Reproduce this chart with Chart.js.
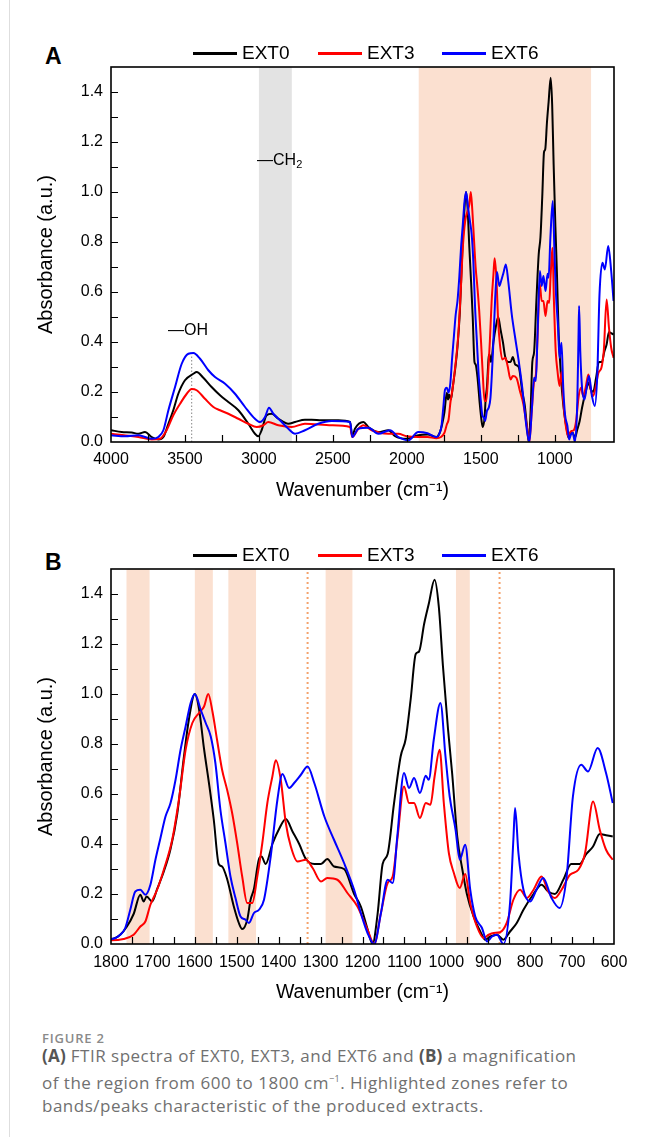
<!DOCTYPE html>
<html>
<head>
<meta charset="utf-8">
<script src="https://cdn.jsdelivr.net/npm/chart.js@4.4.1/dist/chart.umd.min.js"></script>
<style>
  html, body { margin: 0; padding: 0; background: #fff; }
  body { width: 648px; height: 1137px; position: relative; overflow: hidden;
         font-family: "Liberation Sans", Arial, sans-serif; color: #000; }
  .edge { position: absolute; left: 9px; top: 0; width: 1px; height: 1137px; background: #dedede; }
  .tag { position: absolute; font-weight: bold; font-size: 23px; line-height: 24px; }
  .box { position: absolute; left: 0; width: 648px; height: 475px; }
  .legend-item { position: absolute; height: 24px; display: flex; align-items: center;
                 font-size: 19px; white-space: nowrap; }
  .legend-item .swatch { display: inline-block; width: 44px; height: 3px; margin-right: 5px; }
  .fig { position: absolute; left: 42px; top: 1029px; font-family: "Open Sans", sans-serif;
         font-size: 13px; font-weight: 600; color: #8a8a8a; letter-spacing: 0.8px; }
  .caption { position: absolute; left: 42px; top: 1044px; width: 610px; font-family: "Open Sans", sans-serif;
             font-size: 17px; line-height: 23.3px; letter-spacing: 0.5px; color: #707070; }
  .caption b { color: #555; font-weight: 700; letter-spacing: 0.2px; }
</style>
</head>
<body>
<div class="edge"></div>
<div class="tag" style="left:45px; top:44px;">A</div>
<div class="tag" style="left:45px; top:550px;">B</div>
<div class="box" style="top:40px;"><canvas id="chartA" width="648" height="475"></canvas></div>
<div class="box" style="top:540px;"><canvas id="chartB" width="648" height="475"></canvas></div>
<div class="fig">FIGURE 2</div>
<div class="caption"><b>(A)</b> FTIR spectra of EXT0, EXT3, and EXT6 and <b>(B)</b> a magnification<br>of the region from 600 to 1800 cm<sup style="font-size:9px;">−1</sup>. Highlighted zones refer to<br>bands/peaks characteristic of the produced extracts.</div>

<script>
// Series
const seriesNames = ['EXT0', 'EXT3', 'EXT6'];
const seriesColors = ['#000000', '#ff0000', '#0000ff'];

// EXT0 spectrum (wavenumber in cm-1, absorbance)
const ext0Wn = [4000, 3928, 3860, 3815, 3770, 3725, 3680, 3646, 3612, 3579, 3545, 3500, 3443, 3421, 3376, 3320,
  3263, 3207, 3139, 3072, 3027, 3004, 2982, 2948, 2914, 2869, 2801, 2756, 2689, 2644, 2576, 2463, 2384, 2369,
  2351, 2294, 2261, 2193, 2125, 2080, 2001, 1923, 1860,
  1800, 1778, 1762, 1746, 1730, 1722, 1715, 1702, 1690, 1674, 1658, 1642, 1626, 1614, 1600, 1590, 1578, 1566,
  1555, 1543, 1535, 1523, 1507, 1495, 1487, 1475, 1467, 1459, 1447, 1441, 1431, 1415, 1399, 1383, 1367, 1351,
  1335, 1315, 1299, 1284, 1268, 1244, 1220, 1204, 1188, 1176, 1164, 1152, 1140, 1125, 1109, 1097, 1085, 1073,
  1065, 1053, 1042, 1028, 1018, 1008, 996, 986, 974, 962, 951, 935, 919, 907, 895, 879, 864, 848, 832, 816,
  792, 773, 757, 741, 721, 702, 682, 666, 650, 634, 619, 603];
const ext0Abs = [0.047, 0.040, 0.038, 0.033, 0.040, 0.020, 0.010, 0.020, 0.073, 0.127, 0.193, 0.247, 0.273, 0.280, 0.257, 0.220,
  0.187, 0.160, 0.127, 0.073, 0.033, 0.023, 0.047, 0.107, 0.113, 0.093, 0.073, 0.080, 0.089, 0.089, 0.087, 0.087, 0.080, 0.023,
  0.053, 0.080, 0.060, 0.040, 0.047, 0.023, 0.013, 0.027, 0.030,
  0.020, 0.037, 0.070, 0.120, 0.197, 0.170, 0.190, 0.170, 0.220, 0.290, 0.380, 0.520, 0.750, 0.900, 1.000, 0.940, 0.780, 0.640,
  0.500, 0.320, 0.310, 0.260, 0.150, 0.084, 0.060, 0.097, 0.177, 0.220, 0.340, 0.350, 0.320, 0.400, 0.460, 0.500, 0.450, 0.400,
  0.340, 0.320, 0.320, 0.340, 0.310, 0.300, 0.200, 0.150, 0.060, 0.000, 0.120, 0.320, 0.360, 0.560, 0.750, 0.820, 0.980, 1.160,
  1.170, 1.280, 1.360, 1.457, 1.350, 1.110, 0.860, 0.680, 0.430, 0.300, 0.200, 0.110, 0.050, 0.017, 0.030, 0.037, 0.017, 0.050, 0.084, 0.137,
  0.200, 0.237, 0.210, 0.200, 0.257, 0.320, 0.320, 0.360, 0.390, 0.440, 0.435, 0.430];

// EXT3 spectrum
const ext3Wn = [4000, 3815, 3725, 3669, 3624, 3579, 3533, 3488, 3455, 3421, 3365, 3308, 3263, 3207, 3139, 3072,
  3015, 2970, 2937, 2869, 2779, 2689, 2508, 2384, 2369, 2328, 2294, 2238, 2125, 2058, 2001, 1923, 1860,
  1800, 1770, 1746, 1730, 1718, 1706, 1690, 1674, 1654, 1638, 1622, 1606, 1590, 1578, 1568, 1558, 1547, 1535,
  1523, 1511, 1499, 1487, 1475, 1463, 1451, 1439, 1427, 1415, 1407, 1395, 1383, 1371, 1355, 1335, 1319, 1299,
  1284, 1260, 1236, 1212, 1188, 1172, 1156, 1140, 1128, 1117, 1101, 1089, 1077, 1063, 1049, 1038, 1028, 1016,
  1006, 994, 982, 968, 955, 943, 927, 911, 899, 887, 872, 856, 840, 824, 808, 792, 773, 757, 741, 725, 705, 685,
  669, 650, 634, 619, 603];
const ext3Abs = [0.033, 0.020, 0.010, 0.013, 0.047, 0.107, 0.153, 0.193, 0.212, 0.207, 0.173, 0.140, 0.127, 0.113, 0.093, 0.073,
  0.060, 0.067, 0.080, 0.067, 0.060, 0.073, 0.067, 0.060, 0.020, 0.053, 0.067, 0.047, 0.033, 0.033, 0.023, 0.020, 0.020,
  0.015, 0.020, 0.037, 0.070, 0.090, 0.157, 0.217, 0.297, 0.417, 0.577, 0.777, 0.884, 0.924, 0.950, 1.000, 0.930, 0.817, 0.697,
  0.617, 0.524, 0.404, 0.270, 0.164, 0.164, 0.270, 0.404, 0.564, 0.670, 0.735, 0.657, 0.484, 0.390, 0.330, 0.337, 0.304, 0.250,
  0.264, 0.257, 0.204, 0.150, 0.057, 0.000, 0.124, 0.244, 0.270, 0.417, 0.630, 0.564, 0.564, 0.504, 0.564, 0.557, 0.670, 0.777,
  0.564, 0.364, 0.284, 0.224, 0.280, 0.164, 0.070, 0.024, 0.037, 0.044, 0.047, 0.084, 0.177, 0.217, 0.184, 0.217, 0.270, 0.210, 0.184, 0.217, 0.277, 0.297,
  0.364, 0.570, 0.457, 0.377, 0.337];

// EXT6 spectrum
const ext6Wn = [4000, 3905, 3815, 3725, 3680, 3646, 3612, 3567, 3522, 3477, 3443, 3398, 3342, 3297, 3229, 3162,
  3094, 3027, 2993, 2959, 2932, 2903, 2858, 2801, 2756, 2689, 2599, 2508, 2384, 2369, 2328, 2261, 2193, 2114,
  2058, 1990, 1923, 1860,
  1800, 1778, 1766, 1754, 1742, 1730, 1718, 1706, 1694, 1682, 1670, 1658, 1646, 1634, 1622, 1610, 1600, 1586,
  1574, 1562, 1551, 1539, 1527, 1515, 1503, 1491, 1479, 1471, 1459, 1447, 1435, 1419, 1403, 1391, 1375, 1363,
  1347, 1331, 1315, 1291, 1268, 1244, 1220, 1204, 1188, 1172, 1156, 1140, 1128, 1117, 1101, 1089, 1077, 1063,
  1049, 1042, 1030, 1014, 1002, 992, 978, 968, 955, 943, 931, 915, 903, 891, 879, 864, 848, 840, 836, 828, 816,
  800, 785, 769, 749, 730, 713, 698, 678, 662, 639, 619, 603];
const ext6Abs = [0.027, 0.023, 0.027, 0.013, 0.020, 0.047, 0.127, 0.220, 0.313, 0.353, 0.356, 0.333, 0.287, 0.260, 0.233, 0.193,
  0.140, 0.093, 0.080, 0.100, 0.137, 0.113, 0.087, 0.053, 0.033, 0.047, 0.073, 0.084, 0.080, 0.020, 0.053, 0.057, 0.033, 0.047,
  0.020, 0.007, 0.040, 0.035,
  0.020, 0.037, 0.064, 0.137, 0.210, 0.217, 0.197, 0.237, 0.337, 0.424, 0.510, 0.564, 0.657, 0.777, 0.870, 0.964, 1.000, 0.937,
  0.884, 0.830, 0.724, 0.537, 0.404, 0.270, 0.184, 0.110, 0.097, 0.084, 0.124, 0.137, 0.177, 0.350, 0.577, 0.680, 0.624, 0.644,
  0.677, 0.710, 0.644, 0.510, 0.417, 0.324, 0.217, 0.124, 0.044, 0.000, 0.124, 0.257, 0.244, 0.430, 0.684, 0.624, 0.664, 0.604,
  0.673, 0.657, 0.817, 0.964, 0.750, 0.590, 0.457, 0.337, 0.397, 0.217, 0.110, 0.064, 0.010, 0.030, 0.037, 0.000, 0.164, 0.420, 0.544, 0.364, 0.217,
  0.170, 0.217, 0.264, 0.184, 0.144, 0.270, 0.590, 0.717, 0.690, 0.784, 0.684, 0.564];

// Axis tick labels
const xLabelsA = [4000, 3500, 3000, 2500, 2000, 1500, 1000];
const xLabelsB = [1800, 1700, 1600, 1500, 1400, 1300, 1200, 1100, 1000, 900, 800, 700, 600];
const yLabels = [0.0, 0.2, 0.4, 0.6, 0.8, 1.0, 1.2, 1.4];

// Highlighted zones (cm-1)
const greyZonesA = [[3000, 2778]];
const peachZonesA = [[1920, 755]];
const peachZonesB = [[1763, 1708], [1600, 1557], [1520, 1454], [1288, 1224], [977, 944]];
const dottedLinesB = [1331, 873];
const ohMarker = 3455;

const PEACH = 'rgba(250, 212, 190, 0.72)';
const GREY = 'rgba(200, 200, 200, 0.5)';
const FAMILY = '"Liberation Sans", Arial, sans-serif';
const TICK_FONT = { family: FAMILY, size: 16 };

function toPoints(wn, abs) {
    return wn.map((w, i) => ({ x: w, y: abs[i] }));
}

function makeDatasets() {
    const all = [toPoints(ext0Wn, ext0Abs), toPoints(ext3Wn, ext3Abs), toPoints(ext6Wn, ext6Abs)];
    return all.map((pts, i) => ({
        label: seriesNames[i],
        data: pts,
        borderColor: seriesColors[i],
        backgroundColor: seriesColors[i],
        borderWidth: 2,
        pointRadius: 0,
        cubicInterpolationMode: 'monotone',
        order: 2 - i
    }));
}

// Shaded zones, marker lines, frame, inward ticks and peak notes
const decorPlugin = {
    id: 'decor',
    beforeDatasetsDraw(chart, args, opts) {
        const { ctx, chartArea: a, scales: { x, y } } = chart;
        ctx.save();
        ctx.beginPath();
        ctx.rect(a.left, a.top, a.right - a.left, a.bottom - a.top);
        ctx.clip();
        (opts.zones || []).forEach(z => {
            const x1 = x.getPixelForValue(z.from);
            const x2 = x.getPixelForValue(z.to);
            ctx.fillStyle = z.color;
            ctx.fillRect(Math.min(x1, x2), a.top, Math.abs(x2 - x1), a.bottom - a.top);
        });
        (opts.lines || []).forEach(l => {
            const px = x.getPixelForValue(l.at);
            ctx.strokeStyle = l.color;
            ctx.lineWidth = l.width;
            ctx.setLineDash(l.dash);
            ctx.beginPath();
            ctx.moveTo(px, y.getPixelForValue(l.from));
            ctx.lineTo(px, y.getPixelForValue(l.to));
            ctx.stroke();
        });
        ctx.restore();
    },
    afterDraw(chart, args, opts) {
        const { ctx, chartArea: a, scales: { x, y } } = chart;
        ctx.save();
        ctx.strokeStyle = '#000';
        ctx.lineWidth = 1.2;
        ctx.beginPath();
        x.ticks.forEach(t => {
            const px = Math.round(x.getPixelForValue(t.value)) + 0.5;
            if (px - a.left < 2 || a.right - px < 2) return;
            ctx.moveTo(px, a.bottom);
            ctx.lineTo(px, a.bottom - 7);
        });
        y.ticks.forEach(t => {
            const py = Math.round(y.getPixelForValue(t.value)) + 0.5;
            if (py - a.top < 2 || a.bottom - py < 2) return;
            ctx.moveTo(a.left, py);
            ctx.lineTo(a.left + 7, py);
        });
        ctx.stroke();
        ctx.lineWidth = 1.6;
        ctx.strokeRect(a.left, a.top, a.right - a.left, a.bottom - a.top);

        (opts.notes || []).forEach(n => {
            const px = x.getPixelForValue(n.x);
            const py = y.getPixelForValue(n.y);
            ctx.fillStyle = '#000';
            ctx.textBaseline = 'middle';
            ctx.font = '16px ' + FAMILY;
            ctx.fillText(n.text, px, py);
            if (n.sub) {
                const w = ctx.measureText(n.text).width;
                ctx.font = '11px ' + FAMILY;
                ctx.fillText(n.sub, px + w, py + 5);
            }
        });
        ctx.restore();
    }
};

function makeChart(id, cfg) {
    return new Chart(document.getElementById(id), {
        type: 'line',
        data: { datasets: makeDatasets() },
        plugins: [decorPlugin],
        options: {
            responsive: false,
            animation: false,
            layout: { padding: { top: cfg.padTop, right: 34, bottom: 0, left: 0 } },
            plugins: {
                legend: { display: false },
                tooltip: { enabled: false },
                decor: { zones: cfg.zones, lines: cfg.lines, notes: cfg.notes }
            },
            scales: {
                x: {
                    type: 'linear',
                    reverse: true,
                    min: cfg.xMin,
                    max: cfg.xMax,
                    grid: { display: false, drawTicks: false },
                    border: { display: false },
                    ticks: {
                        stepSize: cfg.xStep,
                        autoSkip: false,
                        maxRotation: 0,
                        padding: cfg.tickPad,
                        color: '#000',
                        font: TICK_FONT,
                        callback: v => cfg.xLabels.includes(v) ? String(v) : ''
                    },
                    title: {
                        display: true,
                        text: 'Wavenumber (cm⁻¹)',
                        color: '#000',
                        font: { family: FAMILY, size: 19.5 },
                        padding: { top: 0, bottom: cfg.titlePad }
                    },
                    afterFit: s => { s.height = cfg.xHeight; }
                },
                y: {
                    min: 0,
                    max: 1.5,
                    grid: { display: false, drawTicks: false },
                    border: { display: false },
                    ticks: {
                        stepSize: 0.1,
                        autoSkip: false,
                        padding: 8,
                        color: '#000',
                        font: TICK_FONT,
                        callback: v => {
                            const hit = yLabels.find(l => Math.abs(l - v) < 1e-6);
                            return hit === undefined ? '' : hit.toFixed(1);
                        }
                    },
                    title: {
                        display: true,
                        text: 'Absorbance (a.u.)',
                        color: '#000',
                        font: { family: FAMILY, size: 20 },
                        padding: { top: 34, bottom: 0 }
                    },
                    afterFit: s => { s.width = 111; }
                }
            }
        }
    });
}

makeChart('chartA', {
    xMin: 600, xMax: 4000, xStep: 250, xLabels: xLabelsA,
    padTop: 27, xHeight: 73, titlePad: 13, tickPad: 8,
    zones: greyZonesA.map(z => ({ from: z[0], to: z[1], color: GREY }))
        .concat(peachZonesA.map(z => ({ from: z[0], to: z[1], color: PEACH }))),
    lines: [{ at: ohMarker, from: 0, to: 0.35, color: '#9a9a9a', width: 1.2, dash: [1.5, 2] }],
    notes: [{ x: 3615, y: 0.447, text: '—OH' }, { x: 3013, y: 1.127, text: '—CH', sub: '2' }]
});

makeChart('chartB', {
    xMin: 600, xMax: 1800, xStep: 50, xLabels: xLabelsB,
    padTop: 29, xHeight: 71, titlePad: 11, tickPad: 9,
    zones: peachZonesB.map(z => ({ from: z[0], to: z[1], color: PEACH })),
    lines: dottedLinesB.map(w => ({ at: w, from: 0, to: 1.5, color: '#f4a26c', width: 2, dash: [2, 3] })),
    notes: []
});

// Legends above each panel
function addLegend(centerY) {
    const starts = [193, 318, 442];
    seriesNames.forEach((name, i) => {
        const item = document.createElement('div');
        item.className = 'legend-item';
        item.style.left = starts[i] + 'px';
        item.style.top = (centerY - 12) + 'px';
        item.innerHTML = '<span class="swatch" style="background:' + seriesColors[i] + '"></span><span>' + name + '</span>';
        document.body.appendChild(item);
    });
}
addLegend(53);
addLegend(555);
</script>
</body>
</html>
